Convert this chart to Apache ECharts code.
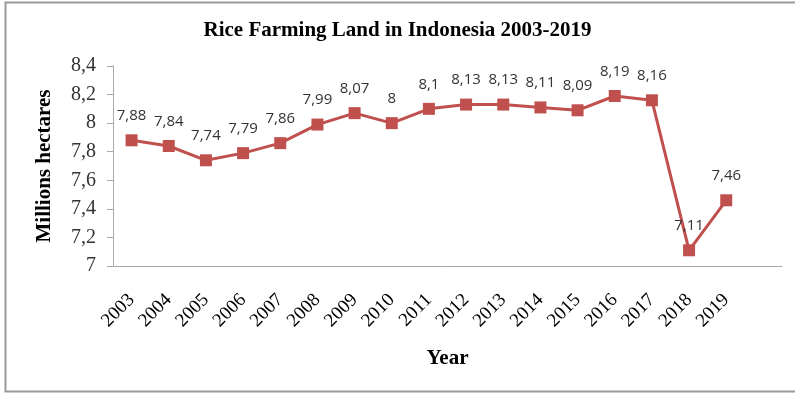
<!DOCTYPE html>
<html><head><meta charset="utf-8">
<script src="https://cdn.jsdelivr.net/npm/echarts@6/dist/echarts.min.js"></script>
<style>html,body{margin:0;padding:0;background:#fff}#c{width:795px;height:393px}</style>
</head><body><div id="c"></div>
<script>
const years = ['2003','2004','2005','2006','2007','2008','2009','2010','2011','2012','2013','2014','2015','2016','2017','2018','2019',''];
const landMillionHa = [7.88,7.84,7.74,7.79,7.86,7.99,8.07,8,8.1,8.13,8.13,8.11,8.09,8.19,8.16,7.11,7.46];
const yTicks = [7,7.2,7.4,7.6,7.8,8,8.2,8.4];
const comma = v => String(+(+v).toFixed(2)).replace('.', ',');
const chart = echarts.init(document.getElementById('c'));
chart.setOption({
  animation:false,
  title:{text:'Rice Farming Land in Indonesia 2003-2019',left:'center',top:15,
    textStyle:{fontFamily:'Liberation Serif',fontWeight:'bold',fontSize:21,color:'#000'}},
  grid:{left:113,right:13,top:66,bottom:127},
  xAxis:{type:'category',data:years,boundaryGap:true,
    name:'Year',nameLocation:'middle',nameGap:82,
    nameTextStyle:{fontFamily:'Liberation Serif',fontWeight:'bold',fontSize:21,color:'#000'},
    axisLine:{lineStyle:{color:'#aaa',width:1}},
    axisTick:{alignWithLabel:false,length:6,lineStyle:{color:'#aaa'}},
    axisLabel:{rotate:45,interval:0,margin:31,fontFamily:'Liberation Serif',fontSize:19,color:'#000'}},
  yAxis:{type:'value',min:7,max:8.4,interval:0.2,
    name:'Millions hectares',nameLocation:'middle',nameGap:58,
    nameTextStyle:{fontFamily:'Liberation Serif',fontWeight:'bold',fontSize:21,color:'#000'},
    axisLine:{show:true,lineStyle:{color:'#aaa'}},
    axisTick:{show:true,length:6,lineStyle:{color:'#aaa'}},
    splitLine:{show:false},
    axisLabel:{fontFamily:'Liberation Serif',fontSize:20,color:'#333',margin:17,formatter:v=>yTicks.includes(+v.toFixed(1))?comma(v):''}},
  series:[{type:'line',data:landMillionHa,symbol:'rect',symbolSize:12,
    lineStyle:{color:'#C0504D',width:3},itemStyle:{color:'#C0504D'},
    label:{show:true,position:'top',distance:11,fontFamily:'Open Sans',fontSize:15,color:'#333',formatter:p=>comma(p.value)}}],
  graphic:[{type:'rect',shape:{x:5.5,y:2.5,width:800,height:389},style:{fill:'none',stroke:'#999',lineWidth:2},silent:true}]
});
</script></body></html>
